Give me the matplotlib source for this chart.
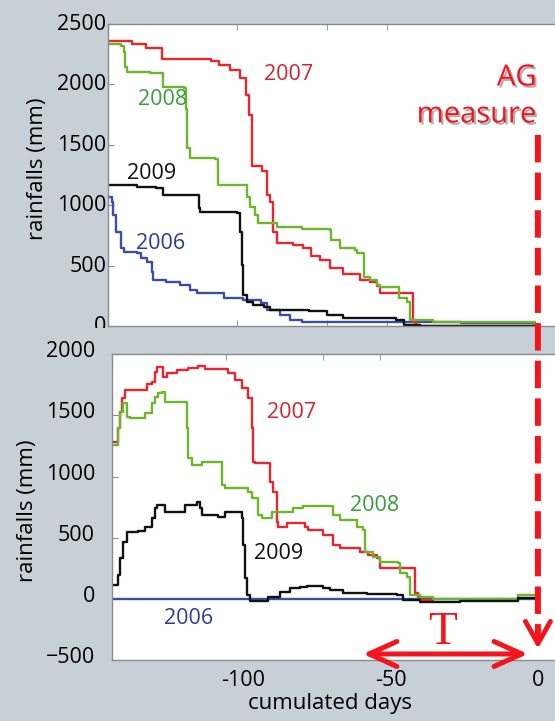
import numpy as np
import matplotlib
matplotlib.use("Agg")
import matplotlib.pyplot as plt
import matplotlib.patheffects as pe
import matplotlib.transforms as mtrans
from matplotlib.patches import ConnectionPatch, Rectangle

plt.rcParams['font.family'] = ['Open Sans', 'DejaVu Sans']

# -----------------------------------------------------------
# Data, x in days before the AG measure
# -----------------------------------------------------------

# top panel: cumulated rainfall (mm)
top_2007_x = [-145.8, -137.5, -133, -127.5, -111, -108, -104.5, -101, -99, -98, -97, -93.5, -92, -91,
              -90, -88.5, -83, -79.5, -77, -74, -70.5, -66, -60.5, -57, -54.5, -53.5, -42.5, -41.5, -38, -1]
top_2007_y = [2360, 2330, 2300, 2210, 2190, 2160, 2120, 2050, 1910, 1750, 1320, 1280, 1085, 1030,
              780, 690, 670, 645, 580, 546, 480, 430, 380, 365, 330, 273, 30, 0, 0, 0]

top_2008_x = [-145.8, -141.5, -140.5, -140, -139.5, -131.5, -127, -120, -119.5, -119, -118, -109.5, -108.5,
              -99.5, -98.5, -97.5, -96, -95, -88.5, -80, -70.5, -70, -67, -62, -61.5, -59, -57, -54.5,
              -53.5, -47.5, -47, -44.5, -43.5, -35.5, -1]
top_2008_y = [2330, 2320, 2270, 2140, 2105, 2090, 1980, 1970, 1800, 1470, 1390, 1385, 1170,
              1165, 1070, 985, 920, 855, 820, 800, 795, 712, 645, 630, 604, 408, 380, 340,
              325, 325, 232, 200, 50, 36, 8]

top_2009_x = [-145.8, -136, -129.5, -127, -116.5, -115, -114.5, -102, -101, -100.5, -100, -98.5, -96.5,
              -93, -91, -77.5, -71.5, -66, -48, -45.5, -40, -1]
top_2009_y = [1167, 1153, 1140, 1085, 1080, 977, 946, 935, 780, 505, 257, 200, 174,
              160, 132, 120, 91, 63, 50, 8, 0, 0]

top_2006_x = [-145.8, -144.5, -144, -143, -141.5, -140.5, -136, -134.5, -132.5, -131, -130.5, -126,
              -121.5, -118, -115.5, -106.5, -100, -94, -92, -87.5, -84, -80, -26, -1]
top_2006_y = [1070, 1030, 920, 780, 643, 610, 600, 563, 530, 450, 380, 367,
              340, 298, 270, 229, 215, 188, 132, 91, 50, 36, 25, 10]

# bottom panel
bot_2007_x = [-144.5, -142.3, -141.7, -141.1, -140, -132.6, -131, -129.8, -129.3, -127, -125.9, -122.5,
              -118.5, -115.2, -112.9, -105, -102.7, -100.4, -98.2, -97, -96.5, -95.9, -90.8, -89.7,
              -88.6, -88, -85.2, -79, -77.9, -72.8, -69.4, -67.1, -60.3, -57.5, -54.7, -53.6, -41.7,
              -40.6, -39.4, -35.5]
bot_2007_y = [1285, 1400, 1530, 1640, 1707, 1754, 1775, 1857, 1898, 1816, 1844, 1871,
              1890, 1906, 1880, 1844, 1789, 1721, 1640, 1395, 1122, 1108, 958, 877,
              631, 590, 618, 590, 564, 523, 441, 414, 386, 360, 332, 251, 47,
              19, -8, -8]

bot_2008_x = [-144.5, -142.3, -141.7, -140.6, -139.4, -138.3, -133.2, -131, -129.8, -128.7, -127.6,
              -126.4, -119.7, -119.1, -118.5, -117.4, -114, -107.2, -106.1, -98.2, -97, -94.8, -93.7,
              -90.3, -83, -79.6, -69.4, -67.1, -61.5, -59.2, -58.6, -55.8, -53.6, -47.4, -46.8, -44.5,
              -43.4, -40, -35.5, -6.7, -1.5]
bot_2008_y = [1258, 1400, 1530, 1599, 1490, 1476, 1517, 1599, 1653, 1681, 1694,
              1612, 1612, 1395, 1150, 1095, 1122, 932, 904, 877, 823, 686, 659,
              713, 741, 760, 686, 645, 590, 564, 386, 345, 305, 292, 210, 182,
              33, 19, 0, 33, 33]

bot_2009_x = [-144.5, -142.3, -141.7, -140.6, -139.4, -135.5, -133.2, -131, -129.8, -129.3, -126.4,
              -119.7, -115.7, -114.6, -114, -108.4, -106.1, -100.4, -99.9, -99.3, -98.7, -97.6, -91.4,
              -87.5, -84.1, -80.7, -78.4, -72.8, -70.5, -66, -58.1, -47.9, -45.7, -40, -26.4, -6.7, -1.5]
bot_2009_y = [114, 200, 332, 468, 550, 554, 590, 659, 741, 768, 713,
              768, 795, 740, 686, 673, 713, 659, 441, 169, 33, -16, 20,
              60, 87, 100, 109, 87, 74, 47, 38, 33, -8, -22, -15, 6, 6]

bot_2006_x = [-144.5, -1.5]
bot_2006_y = [0, 0]

years = ['2006', '2007', '2008', '2009']

line_col = {'2006': '#3b4ea2', '2007': '#e8262d', '2008': '#6cb52d', '2009': '#111111'}
text_col = {'2006': '#2e3d8f', '2007': '#d6232e', '2008': '#3a9d3a', '2009': '#111111'}

top_series = {'2006': (top_2006_x, top_2006_y), '2007': (top_2007_x, top_2007_y),
              '2008': (top_2008_x, top_2008_y), '2009': (top_2009_x, top_2009_y)}
bot_series = {'2006': (bot_2006_x, bot_2006_y), '2007': (bot_2007_x, bot_2007_y),
              '2008': (bot_2008_x, bot_2008_y), '2009': (bot_2009_x, bot_2009_y)}

# label anchor points (days, mm)
top_lab = {'2007': (-84.7, 2078), '2008': (-127.3, 1871), '2009': (-131, 1264), '2006': (-128.1, 685)}
bot_lab = {'2007': (-83.4, 1520), '2008': (-55.3, 760), '2009': (-87.8, 368), '2006': (-118.3, -163)}

bg = '#c6d0d6'
red = '#f5141b'

# -----------------------------------------------------------
# Figure
# -----------------------------------------------------------
fig = plt.figure(figsize=(5.55, 7.21), dpi=100, facecolor=bg)
ax1 = fig.add_axes([0.1946, 0.5479, 0.8144, 0.4189])
ax2 = fig.add_axes([0.2013, 0.0843, 0.8078, 0.4244])

for ax, series, labs in [(ax1, top_series, top_lab), (ax2, bot_series, bot_lab)]:
    for yr in years:
        xs, ys = series[yr]
        ax.step(xs, ys, where='post', color=line_col[yr], lw=1.7)
        tx, ty = labs[yr]
        ax.text(tx, ty, yr, color=text_col[yr], fontsize=15.5, ha='center', va='center')
    for side in ['left', 'top', 'bottom']:
        ax.spines[side].set_color('#8a8a8a')
        ax.spines[side].set_linewidth(1.0)
    ax.spines['right'].set_visible(False)
    ax.tick_params(axis='y', direction='in', length=4, color='#8a8a8a', labelsize=15.5)
    ax.tick_params(axis='x', which='minor', direction='in', length=4, color='#8a8a8a')
    ax.set_ylabel('rainfalls (mm)', fontsize=16)

ax1.set_xlim(-145.8, 7.5)
ax1.set_ylim(0, 2500)
ax1.set_yticks([0, 500, 1000, 1500, 2000, 2500])
ax1.set_xticks([])
ax1.set_xticks([-102, -71.5, -51.2], minor=True)
ax1.tick_params(axis='x', which='minor', top=True, bottom=True)
ax1.tick_params(axis='y', pad=1)
ax1.yaxis.set_label_coords(-0.133, 0.52)

ax2.set_xlim(-144.5, 7.5)
ax2.set_ylim(-500, 2000)
ax2.set_yticks([-500, 0, 500, 1000, 1500, 2000])
ax2.set_xticks([-100, -50, 0])
ax2.set_xticklabels(['-100', '-50', '0'])
ax2.set_xticks([-105.8, -72.9, -53.6], minor=True)
ax2.tick_params(axis='x', which='major', length=0, pad=7, labelsize=15.5)
ax2.tick_params(axis='x', which='minor', top=True, bottom=False)
ax2.tick_params(axis='y', pad=12)
ax2.yaxis.set_label_coords(-0.165, 0.49)
ax2.set_xlabel('cumulated days', fontsize=16)
ax2.xaxis.set_label_coords(0.487, -0.108)

# y tick labels sit a little above their ticks in the reference
for ax, dy in [(ax1, 2), (ax2, 5)]:
    off = mtrans.ScaledTranslation(0, dy / 100, fig.dpi_scale_trans)
    for lab in ax.get_yticklabels():
        lab.set_transform(lab.get_transform() + off)

# cut the lower half of the top panel's "0" like the pasted panels
fig.add_artist(Rectangle((0, 1 - 341 / 721), 0.19, 13 / 721, transform=fig.transFigure,
                         facecolor=bg, edgecolor='none', zorder=5))

# AG measure label + dashed marker
shadow = [pe.withSimplePatchShadow(offset=(1.5, -1.5), shadow_rgbFace='#777777', alpha=0.6)]
ax1.text(-0.5, 2053, 'AG', color=red, fontsize=21, ha='right', va='center', path_effects=shadow)
ax1.text(-0.5, 1747, 'measure', color=red, fontsize=21, ha='right', va='center', path_effects=shadow)

con = ConnectionPatch(xyA=(0, 1581), coordsA=ax1.transData, xyB=(0, -330), coordsB=ax2.transData,
                      color=red, lw=4.3, linestyle=(0, (4.6, 1.7)), capstyle='butt', zorder=6)
fig.add_artist(con)
ax2.annotate('', xy=(0, -405), xytext=(0, -300), annotation_clip=False,
             arrowprops=dict(arrowstyle='->, head_length=0.8, head_width=0.45', color=red, lw=3.5,
                             mutation_scale=20, shrinkA=0, shrinkB=0))

# T window
ax2.annotate('', xy=(-59.3, -449), xytext=(-3.4, -449), annotation_clip=False,
             arrowprops=dict(arrowstyle='<->, head_length=1.0, head_width=0.45', color=red, lw=3.6,
                             mutation_scale=20, shrinkA=0, shrinkB=0))
ax2.text(-32.2, -278, 'T', color=red, fontsize=34, family='Liberation Serif', ha='center', va='center')

fig.savefig('out.png', dpi=100, facecolor=bg)
